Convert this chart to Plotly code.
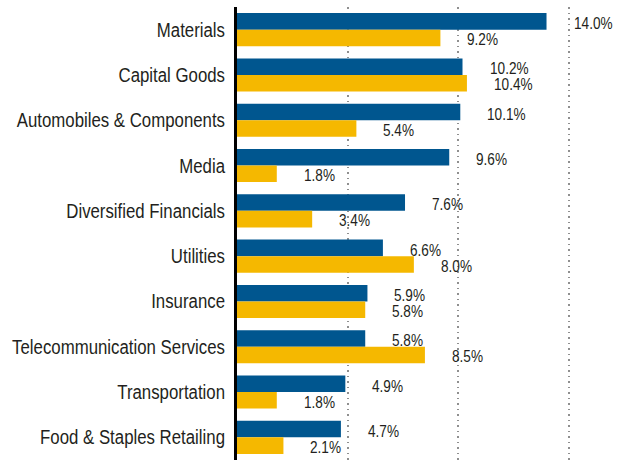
import plotly.graph_objects as go

categories = ["Materials", "Capital Goods", "Automobiles & Components", "Media",
              "Diversified Financials", "Utilities", "Insurance",
              "Telecommunication Services", "Transportation", "Food & Staples Retailing"]
series_a = [14.0, 10.2, 10.1, 9.6, 7.6, 6.6, 5.9, 5.8, 4.9, 4.7]
series_b = [9.2, 10.4, 5.4, 1.8, 3.4, 8.0, 5.8, 8.5, 1.8, 2.1]
x_ticks = [5, 10, 15]

BLUE = "#00568F"
GOLD = "#F5B800"
TXT = "#231F20"
FONT = "Liberation Sans, Arial, sans-serif"

fig = go.Figure()
fig.add_trace(go.Bar(y=categories, x=series_a, orientation="h", marker_color=BLUE,
                     marker_line_width=0, hoverinfo="skip"))
fig.add_trace(go.Bar(y=categories, x=series_b, orientation="h", marker_color=GOLD,
                     marker_line_width=0, hoverinfo="skip"))

annotations = []
for cat, va, vb in zip(categories, series_a, series_b):
    annotations.append(dict(x=va, y=cat, text=f"{va:.1f}%", showarrow=False, align="left",
                            xanchor="left", yanchor="middle", xshift=25, yshift=6,
                            font=dict(family=FONT, size=17, color=TXT)))
    annotations.append(dict(x=vb, y=cat, text=f"{vb:.1f}%", showarrow=False, align="left",
                            xanchor="left", yanchor="middle", xshift=25, yshift=-10,
                            font=dict(family=FONT, size=17, color=TXT)))

fig.update_layout(
    width=628, height=460,
    margin=dict(l=237, r=3, t=7, b=0),
    barmode="group", bargap=0.27, bargroupgap=0,
    showlegend=False,
    plot_bgcolor="white", paper_bgcolor="white",
    font=dict(family=FONT, size=20, color=TXT),
    annotations=annotations,
    xaxis=dict(range=[0, 17.55], tickvals=x_ticks, showticklabels=False,
               showgrid=True, gridcolor="#8f8f8f", gridwidth=1.5, griddash="1.5px,4px",
               zeroline=False, showline=False, fixedrange=True, automargin=False),
    yaxis=dict(autorange="reversed", showline=True, linecolor="black", linewidth=3,
               showgrid=False, zeroline=False, ticks="", ticklabelstandoff=5,
               automargin=False,
               tickfont=dict(family=FONT, size=20, color=TXT), fixedrange=True),
)

# Remove the page margin and condense the glyphs (the reference uses a condensed typeface)
post_script = """
document.body.style.margin = '0';
document.body.style.padding = '0';
var gd = document.getElementById('{plot_id}');
function squeeze(sel, k){
  var els = gd.querySelectorAll(sel);
  els.forEach(function(t){
    var L = t.getComputedTextLength();
    if (!L) return;
    t.setAttribute('lengthAdjust', 'spacingAndGlyphs');
    t.setAttribute('textLength', (L * k).toFixed(2));
  });
}
squeeze('.ytick text', 0.84);
squeeze('.annotation-text', 0.80);
"""

fig.write_html("out.html", post_script=post_script, config={"displayModeBar": False})
